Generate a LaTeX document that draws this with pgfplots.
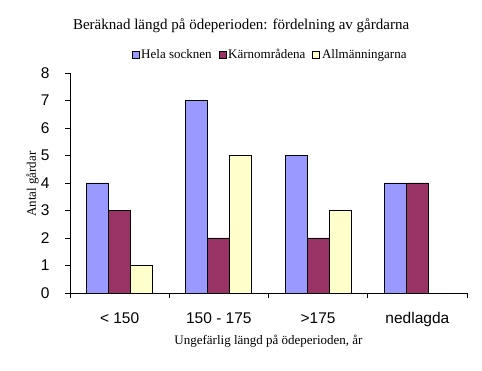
\documentclass[border=0pt]{standalone}
\usepackage{fontspec}
\setmainfont{Liberation Serif}
\newfontfamily\sansf{Liberation Sans}
\usepackage{pgfplots}
\pgfplotsset{compat=1.18}
\definecolor{cblue}{HTML}{9999FF}
\definecolor{cmaroon}{HTML}{993366}
\definecolor{cyellow}{HTML}{FFFFCC}
\begin{document}
\begin{tikzpicture}[x=1pt,y=1pt]
\path[use as bounding box] (0,0) rectangle (482,371);
\begin{axis}[
  at={(70pt,78pt)}, anchor=south west,
  scale only axis, width=397pt, height=220pt,
  ybar=0pt, bar width=22pt,
  xmin=-0.5, xmax=3.5, ymin=0, ymax=8,
  axis x line=bottom, axis y line=left,
  axis line style={-, line width=0.8pt},
  xtick={0,1,2,3},
  xticklabels={{< 150},{150 - 175},{>175},{nedlagda}},
  minor xtick={-0.5,0.5,1.5,2.5,3.5},
  ytick={0,1,...,8},
  tick align=outside,
  major tick length=5pt, minor tick length=5pt,
  x tick style={draw=none},
  minor x tick style={draw=black, line width=0.8pt},
  y tick style={line width=0.8pt, black},
  /pgf/number format/assume math mode=true,
  ticklabel style={font=\sansf\fontsize{15.5}{17}\selectfont},
  xticklabel style={yshift=-11pt},
  yticklabel style={xshift=-12pt},
  title={Beräknad längd på ödeperioden: fördelning av gårdarna},
  title style={at={(axis description cs:0.431,1.186)}, anchor=center, font=\fontsize{15}{17}\selectfont},
  xlabel={Ungefärlig längd på ödeperioden, år},
  xlabel style={at={(axis description cs:0.5,-0.218)}, anchor=center, font=\fontsize{13}{15}\selectfont},
  ylabel={Antal gårdar},
  ylabel style={at={(axis description cs:-0.0945,0.495)}, anchor=center, font=\fontsize{13}{15}\selectfont},
  legend columns=3,
  legend style={draw=none, fill=none, at={(axis description cs:0.504,1.082)}, anchor=center,
    font=\fontsize{13}{15}\selectfont,
    /tikz/every even column/.append style={column sep=5pt}},
  legend image code/.code={\draw[#1, draw=black, line width=0.6pt] (0pt,-3.5pt) rectangle (7pt,3.5pt);},
  every axis plot/.append style={draw=black, line width=0.8pt},
]
\addplot[fill=cblue] coordinates {(0,4) (1,7) (2,5) (3,4)};
\addplot[fill=cmaroon] coordinates {(0,3) (1,2) (2,2) (3,4)};
\addplot[fill=cyellow] coordinates {(0,1) (1,5) (2,3) (3,0)};
\legend{Hela socknen, Kärnområdena, Allmänningarna}
\end{axis}
\end{tikzpicture}
\end{document}
